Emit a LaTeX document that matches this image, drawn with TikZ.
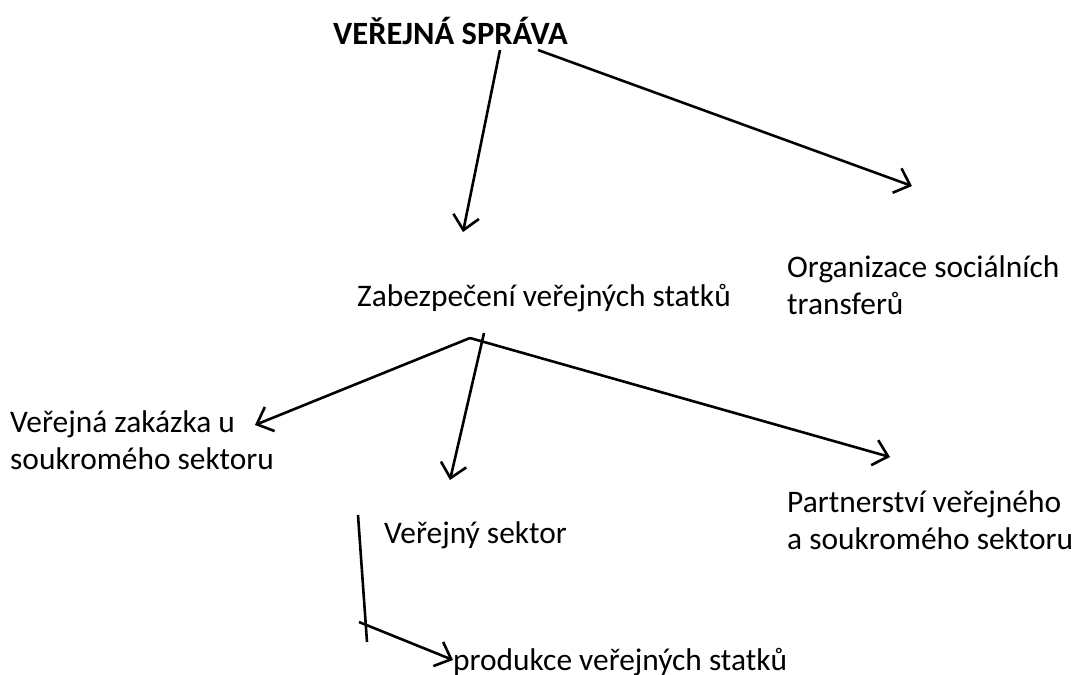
\documentclass[tikz,border=0pt]{standalone}
\usepackage{fontspec}
\setmainfont{Carlito}
\usetikzlibrary{arrows.meta}
\begin{document}
\begin{tikzpicture}[x=1pt,y=-1pt,
  lbl/.style={anchor=west,inner sep=0pt,align=left,font=\fontsize{31.4}{37.5}\selectfont},
  conn/.style={line width=2.6pt,-{Straight Barb[length=14pt,width=26pt,line width=2.6pt]}},
  plain/.style={line width=2.6pt}]
\useasboundingbox (0,0) rectangle (1080,675);
% labels
\node[lbl,font=\fontsize{32.5}{37.5}\selectfont\bfseries] (vs) at (333,31) {VEŘEJNÁ SPRÁVA};
\node[lbl] (zab) at (357,298) {Zabezpečení veřejných statků};
\node[lbl] (org) at (787,285) {Organizace sociálních\\transferů};
\node[lbl] (zak) at (10,440) {Veřejná zakázka u\\soukromého sektoru};
\node[lbl] (pps) at (787,520) {Partnerství veřejného\\a soukromého sektoru};
\node[lbl] (vsek) at (384,535) {Veřejný sektor};
\node[lbl] (prod) at (453,662) {produkce veřejných statků};
% connector end points
\coordinate (a1s) at (500,50);  \coordinate (a1e) at (463,232);
\coordinate (a2s) at (538,50);  \coordinate (a2e) at (912,186);
\coordinate (b0) at (470,338);
\coordinate (b1e) at (255,425);
\coordinate (b2e) at (890,457);
\coordinate (b3s) at (484,333); \coordinate (b3e) at (450,480);
\coordinate (vt) at (358,515);  \coordinate (vb) at (367,642);
\coordinate (c1s) at (359,622); \coordinate (c1e) at (453,660);
% connectors
\draw[conn] (a1s) -- (a1e);
\draw[conn] (a2s) -- (a2e);
\draw[conn] (b0) -- (b1e);
\draw[conn] (b0) -- (b2e);
\draw[conn] (b3s) -- (b3e);
\draw[plain] (vt) -- (vb);
\draw[conn] (c1s) -- (c1e);
\end{tikzpicture}
\end{document}
